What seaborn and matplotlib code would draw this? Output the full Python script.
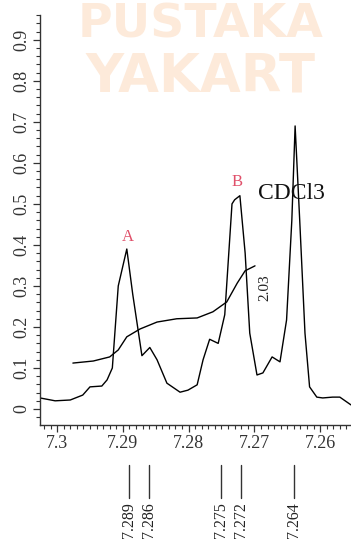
import matplotlib
matplotlib.use('Agg')
import matplotlib.pyplot as plt
import seaborn as sns
import pandas as pd
from matplotlib.ticker import MultipleLocator

# Spectrum data.
ppm = [7.3026, 7.3003, 7.2980, 7.2961, 7.2950, 7.2932, 7.2924, 7.2916, 7.2907, 7.2894,
       7.2885, 7.2871, 7.2859, 7.2848, 7.2833, 7.2813, 7.2801, 7.2787, 7.2778, 7.2768,
       7.2755, 7.2745, 7.2734, 7.2730, 7.2722, 7.2714, 7.2707, 7.2696, 7.2687, 7.2673,
       7.2661, 7.2651, 7.2643, 7.2638, 7.2631, 7.2623, 7.2616, 7.2605, 7.2596, 7.2581,
       7.2570, 7.2553]
intensity = [0.027, 0.020, 0.022, 0.034, 0.054, 0.056, 0.071, 0.10, 0.30, 0.39,
             0.28, 0.13, 0.15, 0.12, 0.063, 0.041, 0.046, 0.059, 0.12, 0.17,
             0.16, 0.23, 0.50, 0.51, 0.52, 0.38, 0.185, 0.083, 0.088, 0.127,
             0.115, 0.217, 0.46, 0.69, 0.46, 0.185, 0.054, 0.029, 0.027, 0.029,
             0.029, 0.010]

# Integral curve.
integral_ppm = [7.2976, 7.2945, 7.2920, 7.2907, 7.2894, 7.2874, 7.2848, 7.2818,
                7.2787, 7.2763, 7.2742, 7.2726, 7.2714, 7.2699]
integral_val = [0.112, 0.117, 0.127, 0.144, 0.176, 0.195, 0.212, 0.220,
                0.222, 0.237, 0.261, 0.307, 0.337, 0.349]
integral_label = '2.03'

# Peak picking list.
peaks = [7.289, 7.286, 7.275, 7.272, 7.264]

# Annotations (label, ppm, height).
labels = ['A', 'B']
label_ppm = [7.2892, 7.2727]
label_y = [0.40, 0.535]

spec = pd.DataFrame({'ppm': ppm, 'intensity': intensity})
integ = pd.DataFrame({'ppm': integral_ppm, 'value': integral_val})

sns.set_style('white')
plt.rcParams['font.family'] = ['Liberation Serif', 'DejaVu Serif']

fig = plt.figure(figsize = (3.51, 5.47), dpi = 100)

# Watermark (faint).
fig.text(0.57, 0.955, 'PUSTAKA', fontsize = 34, fontweight = 'bold', color = '#fcdcc2',
         ha = 'center', va = 'center', family = 'DejaVu Sans', alpha = 0.6, zorder = 0)
fig.text(0.57, 0.86, 'YAKART', fontsize = 38, fontweight = 'bold', color = '#fcdcc2',
         ha = 'center', va = 'center', family = 'DejaVu Sans', alpha = 0.6, zorder = 0)

ax = fig.add_axes([0.114, 0.223, 0.886, 0.75])
ax.patch.set_alpha(0)

sns.lineplot(data = spec, x = 'ppm', y = 'intensity', sort = False, estimator = None,
             color = 'black', linewidth = 1.0, ax = ax)
sns.lineplot(data = integ, x = 'ppm', y = 'value', sort = False, estimator = None,
             color = 'black', linewidth = 1.0, ax = ax)

ax.text(integral_ppm[-1] - 0.0015, integral_val[-1] - 0.02, integral_label, rotation = 90,
        fontsize = 11, ha = 'center', va = 'top', color = '#222222')

for lab, px, py in zip(labels, label_ppm, label_y):
    ax.text(px, py, lab, color = '#e0506a', fontsize = 12, ha = 'center', va = 'bottom')

ax.text(7.2694, 0.525, 'CDCl3', fontsize = 17, ha = 'left', va = 'center', color = '#111111')

ax.set_xlim(7.3026, 7.2553)
ax.set_ylim(-0.039, 0.961)
ax.set_xlabel('')
ax.set_ylabel('')

ax.xaxis.set_minor_locator(MultipleLocator(0.001))
ax.yaxis.set_minor_locator(MultipleLocator(0.02))
ax.set_xticks([7.3, 7.29, 7.28, 7.27, 7.26])
ax.set_xticklabels(['7.3', '7.29', '7.28', '7.27', '7.26'])
ax.set_yticks([0, 0.1, 0.2, 0.3, 0.4, 0.5, 0.6, 0.7, 0.8, 0.9])
ax.set_yticklabels(['0', '0.1', '0.2', '0.3', '0.4', '0.5', '0.6', '0.7', '0.8', '0.9'],
                   rotation = 90, va = 'center')

ax.tick_params(axis = 'both', which = 'major', direction = 'out', length = 5, width = 0.9,
               labelsize = 13, labelcolor = '#333333', color = '#333333', pad = 2)
ax.tick_params(axis = 'both', which = 'minor', direction = 'out', length = 3, width = 0.8,
               color = '#333333')
ax.tick_params(axis = 'x', which = 'both', bottom = True)
ax.tick_params(axis = 'y', which = 'both', left = True)

sns.despine(ax = ax, top = True, right = True)
for side in ['left', 'bottom']:
    ax.spines[side].set_color('#333333')
    ax.spines[side].set_linewidth(1.0)

# Peak list below the axis.
pax = fig.add_axes([0.114, 0.0, 0.886, 0.16], sharex = ax)
pax.set_ylim(0, 1)
pax.axis('off')
for p in peaks:
    pax.plot([p, p], [0.56, 0.94], color = '#333333', linewidth = 1.0)
    pax.text(p, 0.51, f'{p:.3f}', rotation = 90, fontsize = 11.5, ha = 'center', va = 'top',
             color = '#222222', clip_on = False)

fig.savefig('out.png', dpi = 100)
